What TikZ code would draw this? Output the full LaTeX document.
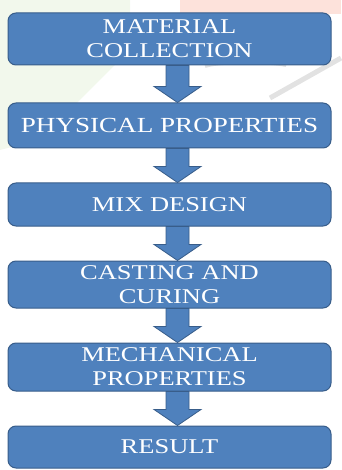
\documentclass[tikz,border=0pt]{standalone}
\usepackage{fontspec}
\newfontfamily\boxfont[FakeStretch=1.26]{Liberation Serif}
\usetikzlibrary{positioning}

\definecolor{stepblue}{RGB}{79,129,189}
\definecolor{stepedge}{RGB}{56,93,138}
\definecolor{markgreen}{RGB}{242,248,236}
\definecolor{markpink}{RGB}{253,226,219}
\definecolor{markgray}{RGB}{226,226,226}

\begin{document}
\begin{tikzpicture}[
  x=1pt, y=-1pt,
  stepbox/.style={rectangle, draw=stepedge, line width=1pt, fill=stepblue, rounded corners=8pt,
    minimum width=323pt, text=white, align=center, inner sep=2pt,
    font=\boxfont\fontsize{21}{24}\selectfont},
  blockarrow/.style={draw=stepedge, line width=0.8pt, fill=stepblue, line join=miter}
]
  \useasboundingbox (0,0) rectangle (341,470);

  % faint marks in the background
  \fill[markgreen] (0,0) -- (130,0) -- (130,50) -- (40,140) -- (0,150) -- cycle;
  \fill[markpink] (180,0) rectangle (341,14);
  \draw[markgray, line width=5pt] (341,58) -- (270,98);
  \draw[markgray, line width=4pt] (205,66) arc[start angle=200, end angle=330, x radius=45, y radius=6];

  % process steps
  \node[stepbox, minimum height=52pt] (collect) at (169.5,39) {MATERIAL\\COLLECTION};
  \node[stepbox, minimum height=45pt, font=\boxfont\fontsize{21.5}{24}\selectfont] (physical) at (169.5,125.5) {PHYSICAL PROPERTIES};
  \node[stepbox, minimum height=43pt] (mix) at (169.5,204.5) {MIX DESIGN};
  \node[stepbox, minimum height=47pt] (casting) at (169.5,284.5) {CASTING AND\\CURING};
  \node[stepbox, minimum height=48pt] (mech) at (169.5,367) {MECHANICAL\\PROPERTIES};
  \node[stepbox, minimum height=42pt] (result) at (169.5,447) {RESULT};

  % block arrows between the steps
  \foreach \a/\b in {collect/physical, physical/mix, mix/casting, casting/mech, mech/result}
    \draw[blockarrow] ([xshift=-3.5pt]\a.south) -- ([xshift=-3.5pt, yshift=16pt]\b.north)
      -- ([xshift=-15.5pt, yshift=16pt]\b.north) -- ([xshift=8pt]\b.north)
      -- ([xshift=31.5pt, yshift=16pt]\b.north) -- ([xshift=19.5pt, yshift=16pt]\b.north)
      -- ([xshift=19.5pt]\a.south) -- cycle;
\end{tikzpicture}
\end{document}
